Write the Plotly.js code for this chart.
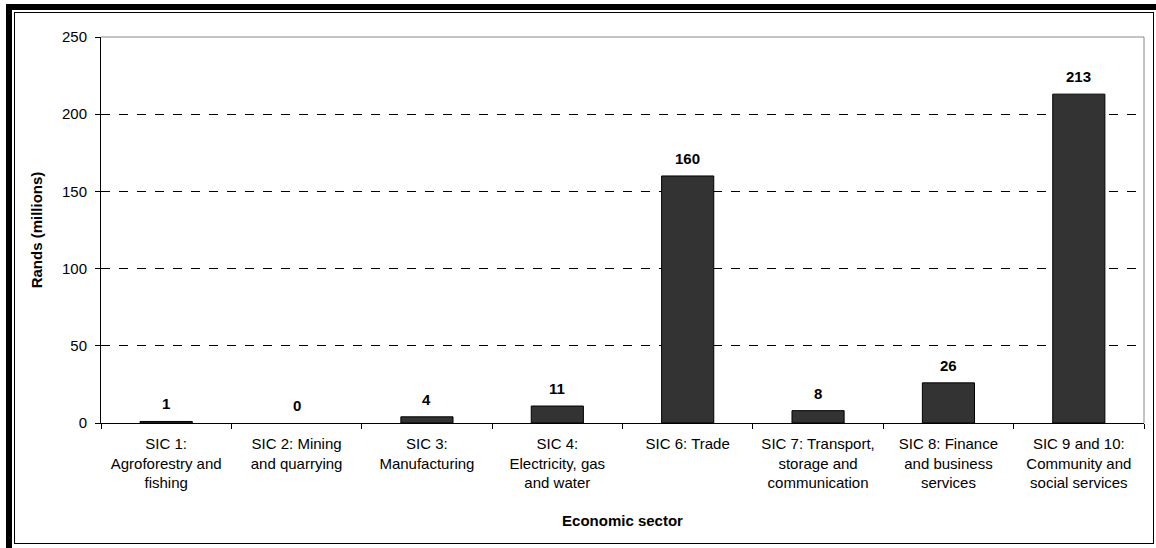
<!DOCTYPE html>
<html>
<head>
<meta charset="utf-8">
<script src="https://cdn.plot.ly/plotly-3.0.1.min.js"></script>
<style>
  html, body { margin: 0; padding: 0; background: #fff; }
  #wrap { position: relative; width: 1156px; height: 548px; overflow: hidden; }
  #chart { position: absolute; left: 0; top: 0; width: 1156px; height: 548px; }
  .b { position: absolute; pointer-events: none; }
</style>
</head>
<body>
<div id="wrap">
  <div id="chart"></div>
  <div class="b" style="left:6px; top:4px; width:6px; height:544px; background:#000;"></div>
  <div class="b" style="left:6px; top:4px; width:1150px; height:6px; background:#000;"></div>
  <div class="b" style="left:14px; top:12px; width:1138px; height:530px; border:1px solid #000;"></div>
</div>
<script>
const categories = [
  "SIC 1:<br>Agroforestry and<br>fishing",
  "SIC 2: Mining<br>and quarrying",
  "SIC 3:<br>Manufacturing",
  "SIC 4:<br>Electricity, gas<br>and water",
  "SIC 6: Trade",
  "SIC 7: Transport,<br>storage and<br>communication",
  "SIC 8: Finance<br>and business<br>services",
  "SIC 9 and 10:<br>Community and<br>social services"
];
const values = [1, 0, 4, 11, 160, 8, 26, 213];
const labels = ["1", "0", "4", "11", "160", "8", "26", "213"];
const yTicks = [0, 50, 100, 150, 200, 250];

const FONT = "Liberation Sans, Arial, sans-serif";

const trace = {
  type: "bar",
  x: categories,
  y: values,
  marker: { color: "#333333", line: { color: "#000", width: values.map(v => v > 0 ? 1 : 0) } },
  hoverinfo: "none"
};

const annotations = categories.map((c, i) => ({
  x: c, y: values[i], xref: "x", yref: "y",
  text: "<b>" + labels[i] + "</b>",
  showarrow: false, yanchor: "bottom", yshift: 7,
  font: { family: FONT, size: 15, color: "#000" }
}));

const layout = {
  width: 1156, height: 548,
  margin: { l: 101, r: 12, t: 37, b: 125 },
  paper_bgcolor: "#fff", plot_bgcolor: "#fff",
  font: { family: FONT, size: 15, color: "#000" },
  showlegend: false,
  bargap: 0.6,
  annotations: annotations,
  xaxis: {
    type: "category",
    tickson: "boundaries",
    ticks: "outside", ticklen: 5, tickcolor: "#000",
    ticklabelstandoff: 7,
    showline: true, linecolor: "#000", linewidth: 1,
    showgrid: false,
    tickfont: { size: 15 },
    title: { text: "<b>Economic sector</b>", font: { size: 15 }, standoff: 25 },
    automargin: false
  },
  yaxis: {
    range: [0, 250],
    tickvals: yTicks,
    ticktext: yTicks.map(String),
    ticks: "outside", ticklen: 5, tickcolor: "#000",
    ticklabelstandoff: 5,
    showline: true, linecolor: "#000", linewidth: 1,
    showgrid: true, gridcolor: "#000", gridwidth: 1, griddash: "dash",
    zeroline: false,
    tickfont: { size: 15 },
    title: { text: "<b>Rands (millions)</b>", font: { size: 15 }, standoff: 15 },
    automargin: false
  },
  shapes: [
    { type: "line", xref: "paper", yref: "paper", x0: 0, x1: 1, y0: 1, y1: 1, line: { color: "#888", width: 1 } },
    { type: "line", xref: "paper", yref: "paper", x0: 1, x1: 1, y0: 0, y1: 1, line: { color: "#888", width: 1 } }
  ]
};

Plotly.newPlot("chart", [trace], layout, { staticPlot: true, displayModeBar: false });
</script>
</body>
</html>
